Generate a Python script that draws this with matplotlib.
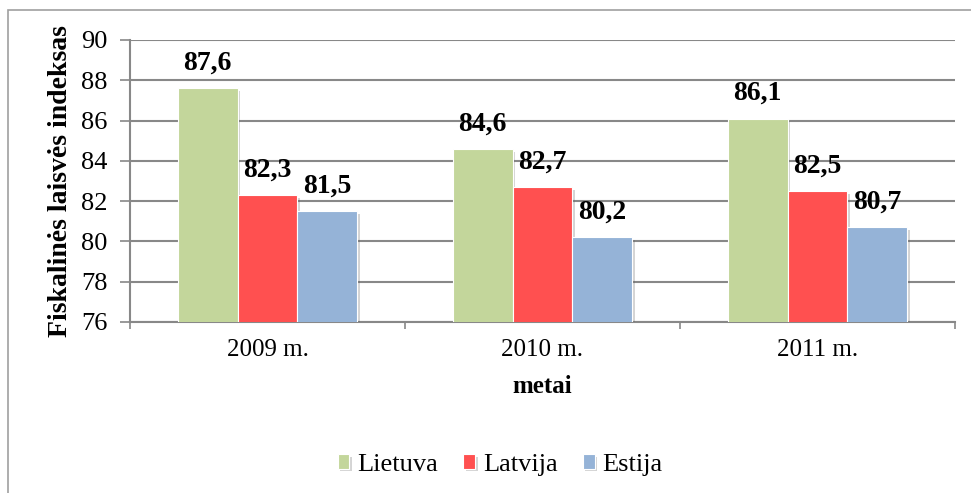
import numpy as np
import matplotlib.pyplot as plt
import matplotlib.patches as patches
import matplotlib.patheffects as pe

plt.rcParams['font.family'] = 'serif'
plt.rcParams['font.serif'] = ['Liberation Serif', 'DejaVu Serif']

years = ['2009 m.', '2010 m.', '2011 m.']
countries = ['Lietuva', 'Latvija', 'Estija']
lietuva = [87.6, 84.6, 86.1]
latvija = [82.3, 82.7, 82.5]
estija = [81.5, 80.2, 80.7]
colors = ['#C3D69B', '#FF5050', '#95B3D7']

fig = plt.figure(figsize=(9.71, 4.93), dpi=100)
ax = fig.add_axes([0.1339, 0.3469, 0.8496, 0.572])

# outer frame
fig.patches.append(patches.Rectangle((8 / 971, -0.05), 1.0, 1 - 10 / 493 + 0.05,
                                     transform=fig.transFigure, fill=False,
                                     edgecolor='#A0A0A0', linewidth=1.2))

x = np.arange(len(years))
w = 0.218
shadow = [pe.SimplePatchShadow(offset=(2, -2), alpha=0.25, shadow_rgbFace='#555555'), pe.Normal()]
for i, (name, vals) in enumerate(zip(countries, [lietuva, latvija, estija])):
    bars = ax.bar(x + (i - 1) * w, vals, w, bottom=0, color=colors[i],
                  edgecolor='white', linewidth=0.8, label=name, zorder=3)
    for b in bars:
        b.set_path_effects(shadow)
    for xi, v in zip(x + (i - 1) * w, vals):
        ax.annotate(f'{v:.1f}'.replace('.', ','), (xi, v), xytext=(0, 9),
                    textcoords='offset points', ha='center', va='bottom',
                    fontsize=20, fontweight='bold', zorder=4)

ax.set_ylim(76, 90)
ax.set_xlim(-0.5, 2.5)
ax.set_yticks(range(76, 91, 2))
ax.set_xticks(x)
ax.set_xticklabels(years)
ax.set_xticks([-0.5, 0.5, 1.5, 2.5], minor=True)
ax.grid(axis='y', color='#888888', linewidth=1.5, zorder=0)
ax.tick_params(axis='y', labelsize=19, length=7, width=1.2, color='#888888', pad=9)
ax.tick_params(axis='x', which='major', labelsize=18, length=0, pad=12)
ax.tick_params(axis='x', which='minor', length=5, width=1.2, color='#888888')
for s in ['top', 'right']:
    ax.spines[s].set_visible(False)
for s in ['left', 'bottom']:
    ax.spines[s].set_color('#888888')
    ax.spines[s].set_linewidth(1.5)

ax.set_ylabel('Fiskalinės laisvės indeksas', fontsize=20, fontweight='bold', labelpad=6)
ax.set_xlabel('metai', fontsize=18, fontweight='bold', labelpad=10)

fig.legend(loc='center', bbox_to_anchor=(0.515, 0.057), ncol=3, frameon=False,
           prop={'family': 'serif', 'size': 19}, handlelength=0.45, handleheight=0.45,
           handletextpad=0.3, columnspacing=0.95)

fig.savefig('out.png', dpi=100)
